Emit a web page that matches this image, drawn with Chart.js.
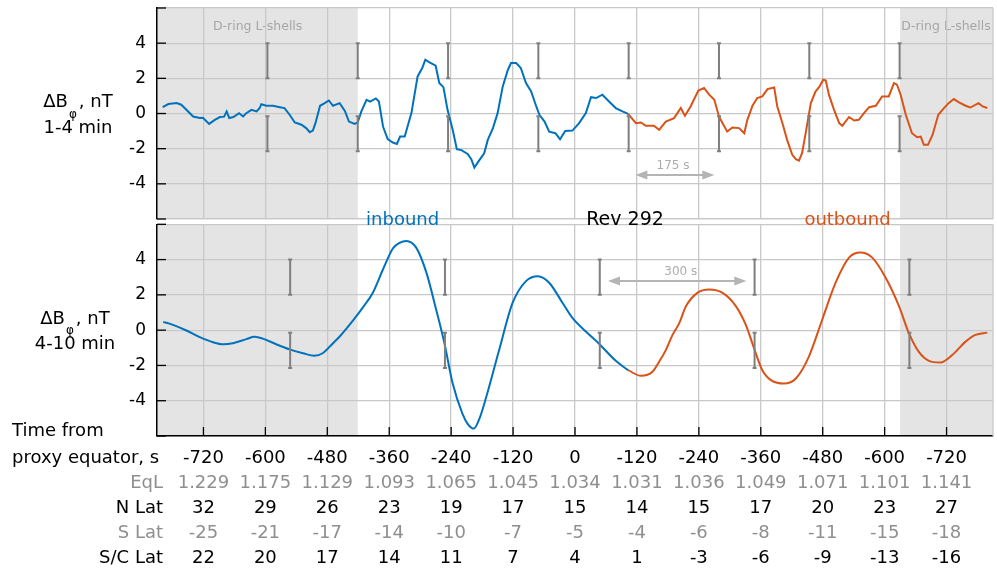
<!DOCTYPE html>
<html>
<head>
<meta charset="utf-8">
<script src="https://cdn.jsdelivr.net/npm/chart.js@4/dist/chart.umd.min.js"></script>
<style>
  body { margin: 0; background: #fff; }
  #wrap { position: relative; width: 997px; height: 573px; }
  canvas { position: absolute; left: 0; }
  #cvRapido { top: 0; }
  #cvLento { top: 200px; }
</style>
</head>
<body>
<div id="wrap">
  <canvas id="cvRapido" width="997" height="222"></canvas>
  <canvas id="cvLento" width="997" height="373"></canvas>
</div>
<script>
// tempo a partir do equador (s) e ΔBφ (nT), filtro 1-4 min
const tempoRapido = [-799, -788, -772, -763, -753, -740, -727, -721, -709, -698, -688, -680, -675, -670, -662, -651, -643, -637, -627, -617, -611, -608, -598, -585, -572, -563, -553, -543, -530, -521, -514, -508, -503, -494, -485, -477, -469, -456, -446, -438, -427, -421, -414, -404, -397, -386, -380, -372, -363, -353, -345, -339, -330, -317, -305, -296, -290, -282, -270, -263, -255, -247, -237, -229, -221, -208, -201, -195, -185, -176, -169, -159, -150, -140, -130, -124, -114, -105, -95, -85, -75, -69, -59, -50, -38, -29, -19, -5, 8, 21, 31, 41, 53, 66, 79, 92, 103, 118, 128, 137, 153, 163, 176, 192, 205, 213, 224, 239, 250, 260, 270, 279, 286, 295, 305, 318, 328, 334, 344, 353, 363, 373, 386, 392, 402, 411, 421, 428, 434, 440, 447, 457, 466, 473, 481, 486, 492, 502, 512, 518, 531, 541, 550, 560, 570, 583, 595, 608, 618, 624, 631, 641, 653, 663, 670, 676, 684, 693, 704, 715, 724, 734, 744, 757, 766, 782, 790, 799];
const valorRapido = [0.36, 0.54, 0.59, 0.50, 0.21, -0.17, -0.26, -0.25, -0.59, -0.36, -0.20, -0.18, 0.12, -0.26, -0.20, 0.02, -0.17, 0.02, 0.21, 0.12, 0.31, 0.53, 0.44, 0.44, 0.36, 0.31, -0.07, -0.51, -0.64, -0.83, -1.06, -0.97, -0.55, 0.44, 0.59, 0.74, 0.44, 0.59, 0.15, -0.46, -0.59, -0.50, 0.12, 0.78, 0.68, 0.86, 0.68, -0.74, -1.46, -1.65, -1.73, -1.31, -1.31, 0.02, 2.11, 2.59, 3.06, 2.91, 2.72, 1.73, 1.50, 0.21, -0.93, -2.03, -2.07, -2.30, -2.60, -3.08, -2.64, -2.26, -1.50, -0.83, 0.02, 1.54, 2.49, 2.87, 2.87, 2.59, 1.73, 1.25, 0.40, -0.07, -0.46, -1.03, -1.12, -1.46, -0.99, -0.97, -0.55, 0.02, 0.93, 0.88, 1.07, 0.68, 0.31, 0.12, -0.02, -0.55, -0.51, -0.70, -0.70, -0.93, -0.46, -0.26, 0.31, -0.13, 0.40, 1.31, 1.45, 1.07, 0.78, -0.17, -0.55, -1.03, -0.80, -0.83, -1.12, -0.36, 0.44, 0.88, 0.97, 1.39, 1.48, 0.40, -0.55, -1.50, -2.35, -2.60, -2.68, -2.26, -1.12, 0.59, 1.25, 1.50, 1.92, 1.88, 1.07, 0.21, -0.55, -0.70, -0.20, -0.40, -0.36, 0.02, 0.36, 0.44, 0.97, 0.97, 1.73, 1.64, 1.07, -0.07, -1.12, -1.35, -1.31, -1.78, -1.78, -1.21, -0.07, 0.31, 0.59, 0.82, 0.63, 0.44, 0.34, 0.59, 0.40, 0.31];

// filtro 4-10 min
const tempoLento = [-798, -779, -753, -727, -701, -682, -663, -637, -621, -605, -579, -553, -527, -505, -489, -469, -455, -442, -430, -411, -392, -372, -353, -340, -327, -308, -288, -269, -253, -237, -218, -207, -196, -185, -172, -147, -121, -95, -72, -50, -24, -5, 21, 47, 79, 103, 128, 150, 163, 176, 189, 202, 215, 237, 260, 286, 312, 331, 347, 363, 382, 405, 428, 453, 479, 505, 531, 553, 576, 602, 628, 647, 666, 686, 708, 731, 757, 776, 799];
const valorLento = [0.47, 0.30, -0.02, -0.40, -0.69, -0.80, -0.74, -0.51, -0.38, -0.48, -0.80, -1.09, -1.31, -1.45, -1.31, -0.74, -0.33, 0.12, 0.55, 1.29, 2.11, 3.45, 4.63, 4.95, 5.06, 4.69, 3.26, 1.16, -0.74, -3.03, -4.74, -5.35, -5.58, -5.00, -3.79, -1.13, 1.54, 2.78, 3.06, 2.69, 1.54, 0.69, -0.08, -0.78, -1.74, -2.27, -2.59, -2.36, -1.79, -1.13, -0.27, 0.40, 1.35, 2.11, 2.30, 2.11, 1.35, 0.30, -1.03, -2.27, -2.88, -3.03, -2.74, -1.51, 0.59, 2.69, 4.11, 4.40, 4.11, 2.97, 1.35, -0.17, -1.22, -1.74, -1.83, -1.41, -0.65, -0.27, -0.14];

const tempoEquador = 103; // a partir daqui a passagem é outbound

const ticksTempo = [-720, -600, -480, -360, -240, -120, 0, 120, 240, 360, 480, 600, 720];
const linhaEqL = ['1.229', '1.175', '1.129', '1.093', '1.065', '1.045', '1.034', '1.031', '1.036', '1.049', '1.071', '1.101', '1.141'];
const linhaNLat = [32, 29, 26, 23, 19, 17, 15, 14, 15, 17, 20, 23, 27];
const linhaSLat = [-25, -21, -17, -14, -10, -7, -5, -4, -6, -8, -11, -15, -18];
const linhaSCLat = [22, 20, 17, 14, 11, 7, 4, 1, -3, -6, -9, -13, -16];

// marcas de período (175 s em cima, 300 s embaixo)
const marcasRapido = [-596, -421, -246, -71, 104, 279, 454, 629];
const marcasLento = [-552, -252, 48, 348, 648];
const faixasDRing = [[-810, -421], [630, 810]];

const AZUL = '#0072bd';
const LARANJA = '#d95319';
const FONTE = 'DejaVu Sans';

function montarSeries(tempos, valores) {
  const inbound = [];
  const outbound = [];
  for (let i = 0; i < tempos.length; i++) {
    const p = { x: tempos[i], y: valores[i] };
    if (tempos[i] <= tempoEquador) inbound.push(p);
    if (tempos[i] >= tempoEquador) outbound.push(p);
  }
  return [inbound, outbound];
}

function seta(ctx, xa, xb, yy) {
  ctx.strokeStyle = '#b4b4b4';
  ctx.fillStyle = '#b4b4b4';
  ctx.lineWidth = 2;
  ctx.beginPath();
  ctx.moveTo(xa + 6, yy);
  ctx.lineTo(xb - 6, yy);
  ctx.stroke();
  ctx.beginPath();
  ctx.moveTo(xa, yy); ctx.lineTo(xa + 12, yy - 4.5); ctx.lineTo(xa + 12, yy + 4.5);
  ctx.closePath(); ctx.fill();
  ctx.beginPath();
  ctx.moveTo(xb, yy); ctx.lineTo(xb - 12, yy - 4.5); ctx.lineTo(xb - 12, yy + 4.5);
  ctx.closePath(); ctx.fill();
}

function tituloY(ctx, cx, y0, linha2) {
  ctx.fillStyle = '#000';
  ctx.textBaseline = 'middle';
  ctx.textAlign = 'left';
  ctx.font = `18px "${FONTE}"`;
  const wa = ctx.measureText('ΔB').width;
  const wc = ctx.measureText(', nT').width;
  ctx.font = `12px "${FONTE}"`;
  const wb = ctx.measureText('φ').width + 3;
  let xx = cx - (wa + wb + wc) / 2;
  ctx.font = `18px "${FONTE}"`;
  ctx.fillText('ΔB', xx, y0 - 11);
  ctx.font = `12px "${FONTE}"`;
  ctx.fillText('φ', xx + wa + 1, y0 + 1);
  ctx.font = `18px "${FONTE}"`;
  ctx.fillText(', nT', xx + wa + wb, y0 - 11);
  ctx.textAlign = 'center';
  ctx.fillText(linha2, cx, y0 + 14.5);
}

function criarPainel(cfg) {
  return {
    id: 'painel',
    beforeDraw(chart) {
      const { ctx, chartArea: area, scales: { x, y } } = chart;
      ctx.save();
      ctx.fillStyle = '#e4e4e4';
      faixasDRing.forEach(([a, b]) => {
        const x0 = Math.max(area.left, x.getPixelForValue(a));
        const x1 = Math.min(area.right, x.getPixelForValue(b));
        ctx.fillRect(x0, area.top, x1 - x0, area.bottom - area.top);
      });
      if (cfg.rotuloDRing) {
        ctx.font = `12.5px "${FONTE}"`;
        ctx.fillStyle = '#a6a6a6';
        ctx.textAlign = 'center';
        ctx.textBaseline = 'middle';
        cfg.rotuloDRing.forEach(t => {
          ctx.fillText('D-ring L-shells', x.getPixelForValue(t), y.getPixelForValue(4.95));
        });
      }
      ctx.restore();
    },
    beforeDatasetsDraw(chart) {
      const { ctx, chartArea: area } = chart;
      ctx.save();
      ctx.strokeStyle = '#c8c8c8';
      ctx.lineWidth = 1.3;
      ctx.beginPath();
      ctx.moveTo(area.right, area.top);
      ctx.lineTo(area.right, area.bottom);
      ctx.stroke();
      ctx.restore();
    },
    afterDatasetsDraw(chart) {
      const { ctx, scales: { x, y } } = chart;
      ctx.save();
      ctx.strokeStyle = '#7f7f7f';
      ctx.lineWidth = 2;
      cfg.marcas.forEach(t => {
        const px = x.getPixelForValue(t);
        [[4, 2], [-0.15, -2.15]].forEach(([a, b]) => {
          const ya = y.getPixelForValue(a);
          const yb = y.getPixelForValue(b);
          ctx.beginPath();
          ctx.moveTo(px - 2, ya); ctx.lineTo(px + 2, ya);
          ctx.moveTo(px, ya); ctx.lineTo(px, yb);
          ctx.moveTo(px - 2, yb); ctx.lineTo(px + 2, yb);
          ctx.stroke();
        });
      });
      // seta do período
      const s = cfg.seta;
      const ys = y.getPixelForValue(s.v);
      seta(ctx, x.getPixelForValue(s.de), x.getPixelForValue(s.ate), ys);
      ctx.font = `12px "${FONTE}"`;
      ctx.fillStyle = '#acacac';
      ctx.textAlign = 'center';
      ctx.textBaseline = 'middle';
      ctx.fillText(s.texto, x.getPixelForValue(s.tTexto), y.getPixelForValue(s.vTexto));
      ctx.restore();
    },
    afterDraw(chart) {
      const { ctx, chartArea: area, scales } = chart;
      const { x, y } = scales;
      ctx.save();
      // ticks para dentro
      ctx.strokeStyle = '#000';
      ctx.lineWidth = 1.3;
      y.ticks.forEach(tk => {
        const py = y.getPixelForValue(tk.value);
        ctx.beginPath(); ctx.moveTo(area.left, py); ctx.lineTo(area.left + 9, py); ctx.stroke();
      });
      if (cfg.ticksX) {
        x.ticks.forEach(tk => {
          const px = x.getPixelForValue(tk.value);
          ctx.beginPath(); ctx.moveTo(px, area.bottom); ctx.lineTo(px, area.bottom - 9); ctx.stroke();
        });
      }
      tituloY(ctx, cfg.centroTitulo, y.getPixelForValue(0), cfg.faixa);

      if (cfg.rotulos) {
        ctx.textAlign = 'center';
        ctx.textBaseline = 'middle';
        cfg.rotulos.forEach(r => {
          ctx.font = `${r.tam}px "${FONTE}"`;
          ctx.fillStyle = r.cor;
          ctx.fillText(r.texto, x.getPixelForValue(r.t), y.getPixelForValue(r.v));
        });
      }

      if (cfg.tabela) {
        ctx.font = `18px "${FONTE}"`;
        ctx.textBaseline = 'middle';
        ctx.textAlign = 'left';
        ctx.fillStyle = '#000';
        ctx.fillText('Time from', 12, x.top - 4.5);
        ctx.fillText('proxy equator, s', 12, x.top + 22.5);
        ctx.textAlign = 'right';
        [['eql', 'EqL', '#8f8f8f'], ['nlat', 'N Lat', '#000'], ['slat', 'S Lat', '#8f8f8f'], ['sclat', 'S/C Lat', '#000']]
          .forEach(([id, nome, cor]) => {
            ctx.fillStyle = cor;
            ctx.fillText(nome, 163, scales[id].top + 12.5);
          });
      }
      ctx.restore();
    }
  };
}

function eixoY() {
  return {
    min: -6,
    max: 6,
    afterFit: (s) => {
      s.width = 157;
      // sem folga extra em cima/embaixo por causa dos rótulos
      s.paddingTop = 0;
      s.paddingBottom = 0;
    },
    afterBuildTicks: (s) => { s.ticks = [-6, -4, -2, 0, 2, 4, 6].map(v => ({ value: v })); },
    ticks: {
      padding: 11,
      color: '#000',
      font: { family: FONTE, size: 17 },
      callback: (v) => (Math.abs(v) === 6 ? '' : String(v))
    },
    grid: { color: '#c8c8c8', lineWidth: 1.3, drawTicks: false },
    border: { color: '#000', width: 1.5 }
  };
}

function eixoTempo(extra) {
  return Object.assign({
    type: 'linear',
    position: 'bottom',
    min: -810,
    max: 810,
    afterBuildTicks: (s) => { s.ticks = ticksTempo.map(v => ({ value: v })); }
  }, extra);
}

function eixoLinha(linha, cor, peso) {
  return eixoTempo({
    weight: peso,
    afterFit: (s) => { s.height = 25; },
    grid: { display: false, drawTicks: false },
    border: { display: false },
    ticks: {
      autoSkip: false, maxRotation: 0, padding: 0, color: cor,
      font: { family: FONTE, size: 18, lineHeight: '25px' },
      callback: (v, i) => String(linha[i])
    }
  });
}

function datasets(tempos, valores, suave) {
  const [inbound, outbound] = montarSeries(tempos, valores);
  const base = { borderWidth: 2, pointRadius: 0, fill: false };
  if (suave) base.cubicInterpolationMode = 'monotone';
  return [
    Object.assign({ label: 'inbound', data: inbound, borderColor: AZUL }, base),
    Object.assign({ label: 'outbound', data: outbound, borderColor: LARANJA }, base)
  ];
}

const opcoesBase = {
  responsive: false,
  animation: false,
  devicePixelRatio: 1,
  events: [],
  plugins: { legend: { display: false }, tooltip: { enabled: false } }
};

// painel de cima: 1-4 min
new Chart(document.getElementById('cvRapido'), {
  type: 'line',
  data: { datasets: datasets(tempoRapido, valorRapido, false) },
  options: Object.assign({}, opcoesBase, {
    layout: { padding: { top: 8, bottom: 3, left: 0, right: 4 } },
    scales: {
      x: eixoTempo({
        ticks: { display: false },
        grid: { color: '#c8c8c8', lineWidth: 1.3, drawTicks: false },
        border: { color: '#c8c8c8', width: 1.3 }
      }),
      y: eixoY()
    }
  }),
  plugins: [criarPainel({
    marcas: marcasRapido,
    rotuloDRing: [-615, 719],
    seta: { de: 117, ate: 270, v: -3.5, texto: '175 s', tTexto: 190, vTexto: -3.0 },
    centroTitulo: 78,
    faixa: '1-4 min',
    ticksX: false
  })]
});

// painel de baixo: 4-10 min, com a tabela de efemérides
new Chart(document.getElementById('cvLento'), {
  type: 'line',
  data: { datasets: datasets(tempoLento, valorLento, true) },
  options: Object.assign({}, opcoesBase, {
    layout: { padding: { top: 24.3, bottom: 2, left: 0, right: 4 } },
    scales: {
      x: eixoTempo({
        weight: 0,
        afterFit: (s) => { s.height = 35; },
        ticks: {
          autoSkip: false, maxRotation: 0, padding: 10, color: '#000',
          font: { family: FONTE, size: 18, lineHeight: '25px' },
          callback: (v) => (v === 0 ? '0' : '-' + Math.abs(v))
        },
        grid: { color: '#c8c8c8', lineWidth: 1.3, drawTicks: false },
        border: { color: '#000', width: 1.5 }
      }),
      eql: eixoLinha(linhaEqL, '#8f8f8f', 1),
      nlat: eixoLinha(linhaNLat, '#000', 2),
      slat: eixoLinha(linhaSLat, '#8f8f8f', 3),
      sclat: eixoLinha(linhaSCLat, '#000', 4),
      y: eixoY()
    }
  }),
  plugins: [criarPainel({
    marcas: marcasLento,
    seta: { de: 64, ate: 332, v: 2.78, texto: '300 s', tTexto: 205, vTexto: 3.3 },
    centroTitulo: 75,
    faixa: '4-10 min',
    ticksX: true,
    tabela: true,
    rotulos: [
      { texto: 'inbound', t: -334, v: 6.25, cor: AZUL, tam: 18 },
      { texto: 'Rev 292', t: 97, v: 6.25, cor: '#000', tam: 19 },
      { texto: 'outbound', t: 528, v: 6.25, cor: LARANJA, tam: 18 }
    ]
  })]
});
</script>
</body>
</html>
